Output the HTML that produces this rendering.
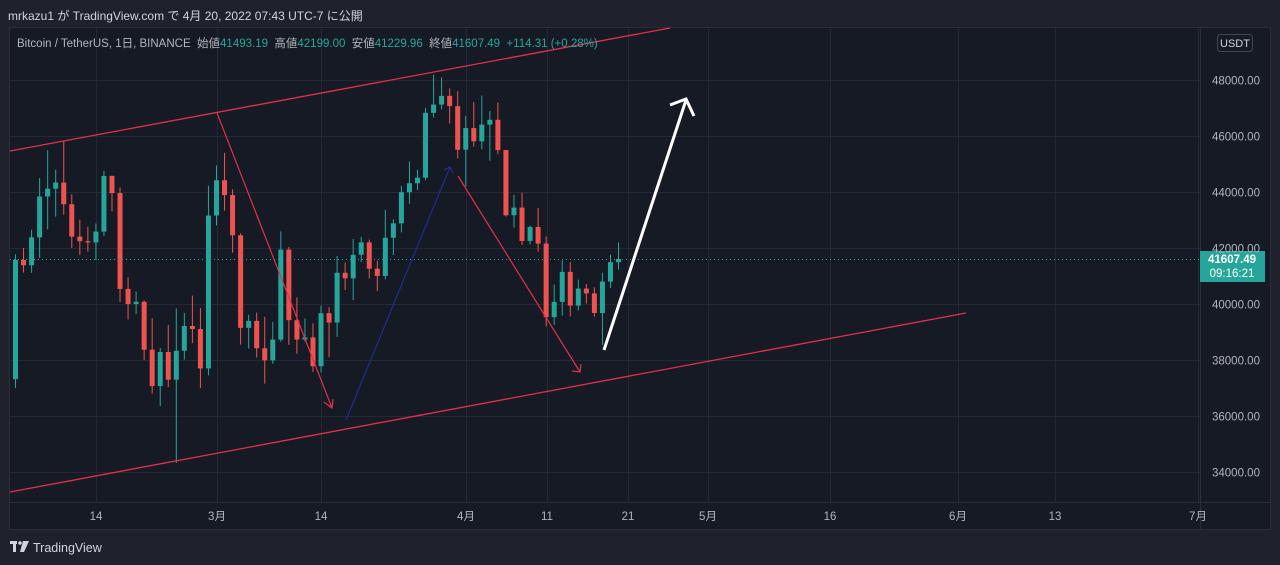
<!DOCTYPE html>
<html><head><meta charset="utf-8"><style>
html,body{margin:0;padding:0;background:#1f222c;width:1280px;height:565px;overflow:hidden;font-family:"Liberation Sans","Noto Sans CJK JP",sans-serif}
.t{position:absolute;white-space:nowrap}
</style></head><body>
<div class="t" style="left:8px;top:7px;font-size:12px;color:#d1d4dc">mrkazu1 が TradingView.com で 4月 20, 2022 07:43 UTC-7 に公開</div>
<svg id="s" width="1280" height="565" style="position:absolute;left:0;top:0">
<rect x="9.5" y="27.5" width="1261" height="502" fill="#161a25" stroke="#2a2e39"/>
<line x1="1200.5" y1="28" x2="1200.5" y2="530" stroke="#2a2e39"/>
<line x1="10" y1="502.5" x2="1270" y2="502.5" stroke="#2a2e39"/>
<g id="grid" stroke="#242834" stroke-width="1"></g>
<g id="c"></g>
<line x1="10" y1="259.5" x2="1200" y2="259.5" stroke="#26a69a" stroke-dasharray="1 3"/>
<line x1="10" y1="151" x2="670" y2="28" stroke="#e0314b" stroke-width="1.3"/>
<line x1="10" y1="492" x2="966" y2="313" stroke="#e0314b" stroke-width="1.3"/>
<g fill="none" stroke-width="1.2">
<path d="M217 113 L332 408 M324 402 L332 408 L333 399" stroke="#e0314b"/>
<path d="M346 420 L450 167 M444 170 L450 167 L453 173" stroke="#1e2f8c"/>
<path d="M458 176 L580 372 M572 371 L580 372 L581 364" stroke="#e0314b"/>
<path d="M604 350 L686 100 M670 105 L686 99 L694 116" stroke="#fff" stroke-width="3"/>
</g>
<rect x="1200" y="251" width="65" height="31" fill="#26a69a"/>
<text x="1232" y="263" fill="#fff" font-size="11.5" font-weight="bold" text-anchor="middle">41607.49</text>
<text x="1232" y="277" fill="#fff" font-size="11.5" text-anchor="middle">09:16:21</text>
<rect x="1217.5" y="34.5" width="35" height="17" rx="3" fill="none" stroke="#434651"/>
<text x="1235" y="47" fill="#d1d4dc" font-size="11" text-anchor="middle">USDT</text>
<g id="ax" fill="#b2b5be" font-size="11.5"></g>
<g fill="#d1d4dc"><rect x="10" y="541" width="7" height="3"/><rect x="13" y="541" width="3" height="11"/><circle cx="20" cy="543" r="1.8"/><path d="M23 541 L29 541 L24 552 L20 552 Z"/></g>
<text x="33" y="552" fill="#d1d4dc" font-size="12.5">TradingView</text>
</svg>
<div class="t" style="left:17px;top:35px;font-size:11.5px;color:#b2b5be">Bitcoin / TetherUS, 1日, BINANCE&nbsp; 始値<span style="color:#26a69a">41493.19</span>&nbsp; 高値<span style="color:#26a69a">42199.00</span>&nbsp; 安値<span style="color:#26a69a">41229.96</span>&nbsp; 終値<span style="color:#26a69a">41607.49&nbsp; +114.31 (+0.28%)</span></div>
<script>
var d=[[37317,41772,37000,41574],[41571,42000,41120,41382],[41382,42656,41116,42380],[42380,44500,41645,43840],[43840,45492,42666,44118],[44118,44799,43117,44338],[44338,45821,43193,43565],[43565,43920,42000,42407],[42407,43010,41748,42244],[42244,42760,41870,42197],[42197,42876,41570,42586],[42586,44751,42427,44575],[44575,44583,43311,43961],[43961,44164,40073,40538],[40538,40960,39450,40000],[40000,40444,39639,40080],[40080,40125,38000,38368],[38368,39494,36800,37068],[37068,38429,36350,38286],[38286,39249,37036,37296],[37296,39843,34322,38332],[38332,39683,38014,39214],[39214,40300,38600,39105],[39105,39855,37000,37699],[37699,44225,37450,43160],[43160,44949,42809,44421],[44421,45400,43334,43892],[43892,44101,41832,42454],[42454,42527,38550,39148],[39148,39613,38407,39397],[39397,39693,38088,38420],[38420,39547,37155,37988],[37988,39362,37867,38730],[38730,42594,38656,41941],[41941,42039,38539,39422],[39422,40236,38223,38730],[38730,39486,38660,38807],[38807,39310,37578,37777],[37777,39947,37555,39672],[39672,39887,38098,39338],[39338,41718,38828,41114],[41114,41478,40500,40917],[40917,42325,40135,41757],[41757,42400,41499,42201],[42201,42296,40911,41262],[41262,41544,40467,41002],[41002,43361,40875,42364],[42364,43025,41751,42882],[42882,44220,42560,43991],[43991,45094,43579,44313],[44313,44792,44071,44511],[44511,46999,44421,46827],[46827,48189,46663,47122],[47122,48096,46950,47434],[47434,47700,46445,47067],[47067,47600,45200,45510],[45510,46720,44200,46283],[46283,47213,45620,45811],[45811,47444,45530,46407],[46407,46890,45118,46580],[46580,47200,45353,45497],[45497,45507,43121,43170],[43170,43900,42727,43444],[43444,43970,42107,42252],[42252,42800,42125,42753],[42753,43434,41868,42158],[42158,42414,39200,39530],[39530,40699,39254,40074],[40074,41561,39588,41147],[41147,41500,39551,39942],[39942,40870,39766,40551],[40551,40709,40020,40378],[40378,40595,39546,39678],[39678,41116,38536,40801],[40801,41760,40571,41493],[41493,42199,41229,41607]];
function Y(p){return 80+(48000-p)*0.028}
var ns="http://www.w3.org/2000/svg",h="";
d.forEach(function(c,i){var x=15+i*8.04,col=c[3]>=c[0]?"#26a69a":"#ef5350";var t=Y(Math.max(c[0],c[3])),b=Y(Math.min(c[0],c[3]));if(b-t<1)b=t+1;
h+='<line x1="'+(x+.5)+'" x2="'+(x+.5)+'" y1="'+Y(c[1])+'" y2="'+Y(c[2])+'" stroke="'+col+'"/><rect x="'+(x-2)+'" y="'+t+'" width="5" height="'+(b-t)+'" fill="'+col+'"/>';});
document.getElementById("c").innerHTML=h;
var g="",a="";
for(var p=34000;p<=48000;p+=2000){var y=Math.round(Y(p))+.5;g+='<line x1="10" x2="1200" y1="'+y+'" y2="'+y+'"/>';a+='<text x="1212" y="'+(y+4)+'">'+p+'.00</text>';}
[[96,"14"],[217,"3月"],[321,"14"],[466,"4月"],[547,"11"],[628,"21"],[708,"5月"],[830,"16"],[958,"6月"],[1055,"13"],[1198,"7月"]].forEach(function(v){g+='<line x1="'+(v[0]+.5)+'" x2="'+(v[0]+.5)+'" y1="28" y2="502"/>';a+='<text x="'+v[0]+'" y="520" text-anchor="middle">'+v[1]+'</text>';});
document.getElementById("grid").innerHTML=g;document.getElementById("ax").innerHTML=a;
</script>
</body></html>
